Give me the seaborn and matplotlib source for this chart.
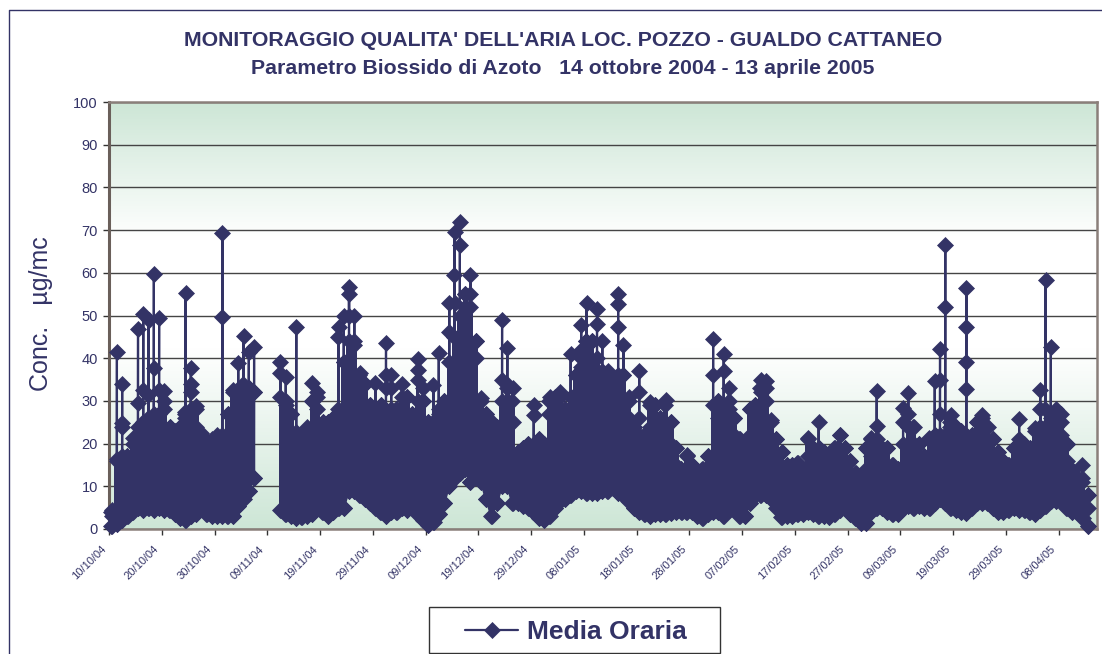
#!/usr/bin/python3
import numpy as np
import pandas as pd
from matplotlib import pyplot as plt
from matplotlib.colors import LinearSegmentedColormap
from matplotlib.lines import Line2D
from matplotlib.patches import Rectangle
from matplotlib.transforms import ScaledTranslation
import seaborn as sns

sns.set_style('white')
plt.rcParams['font.family'] = ['Liberation Sans', 'DejaVu Sans']

BLU = '#333366'
nan = float('nan')

inizio = '2004-10-10'

# valori letti a occhio, un valore per giorno a partire dal 10/10/04
massimi = [4.5, 41.5, 34, 17, 21.3, 46.8, 50.3, 49, 59.7, 49.3,
           32.3, 24, 23, 24, 55.2, 37.7, 28.7, 22.5, 20, 21,
           22, 69.3, 27, 32.5, 38.8, 45.2, 41.5, 42.7, nan, nan,
           nan, nan, 39.2, 35.7, 27, 47.4, 22, 24, 34.2, 32,
           25, 25, 26, 47.4, 49.9, 56.6, 50, 36.5, 34, 29,
           34.2, 29, 43.6, 36, 28, 34, 31, 27, 39.7, 33,
           25, 33.7, 41.3, 30, 52.9, 69.5, 71.8, 55, 59.5, 44,
           30.6, 27, 25, 24, 48.9, 42.3, 33, 18, 19, 20,
           29, 21, 20, 31, 31, 32, 28, 41.1, 36, 47.8,
           53, 44, 51.5, 44, 37, 35, 55, 43, 31, 24,
           37, 22, 29.8, 29, 26, 30.2, 25, 19, 14, 17.3,
           15, 13, 14, 17, 44.6, 30, 40.9, 33, 26, 21,
           20, 28, 29, 35, 34.7, 25.5, 21, 18, 15, 15,
           15.5, 14, 21.4, 19, 25.1, 18, 17, 19, 22, 19,
           16, 13, 12, 19, 21.2, 32.4, 19, 19, 15, 14,
           28.3, 31.9, 24, 20, 17, 21.2, 34.7, 42.1, 66.4, 26.7,
           24, 23, 56.4, 22, 25, 26.7, 24, 21, 18, 16,
           15, 19, 25.8, 20, 19, 23.7, 32.5, 58.4, 42.6, 28.2,
           26.9, 20, 13.8, 12, 15, 8]

secondi = [3, 16.5, 24.8, 14, 15, 29.5, 32.5, 31.4, 37.7, 32.5,
           28, 18, 16, 16, 27, 34, 24, 18, 15, 15,
           16, 49.7, 20, 25, 30, 34, 33, 32, nan, nan,
           nan, nan, 36.5, 30, 22, 22.8, 14, 17, 30, 28,
           20, 20, 22, 45, 39, 55, 43, 33, 28, 22,
           27, 22, 36, 33, 22, 28, 26, 22, 37.3, 30,
           20, 24, 28, 22, 46.2, 59.5, 66.5, 52, 55, 40,
           26, 23, 20, 20, 35, 34, 25, 14, 15, 16,
           26.8, 16, 15, 27, 26, 27, 24, 31, 30, 38,
           44, 38, 48, 36, 32, 30, 52.6, 36, 26, 20,
           32, 18, 24, 24, 22, 24, 20, 15, 11, 13,
           11, 10, 10, 14, 36, 26, 37, 28, 22, 17,
           16, 22, 25, 32, 30, 21, 17, 14, 12, 12,
           12, 11, 17, 15, 19, 14, 13, 15, 18, 15,
           12, 10, 8, 14, 17, 24.2, 15, 15, 11, 10,
           25, 27, 20, 16, 13, 16, 22, 27, 52, 24,
           20, 19, 47.2, 18, 22, 23, 20, 17, 14, 12,
           12, 15, 20, 16, 15, 18, 28, 28, 26, 24,
           22, 16, 10, 9, 11, 5]

# livello fino a cui le letture si sovrappongono in una massa piena
corpo = [4, 16, 17, 17, 20, 24, 25, 26, 27, 27,
         30, 24, 22, 24, 26, 28, 28, 22, 20, 20,
         21, 22, 27, 32, 32, 33, 33, 32, nan, nan,
         nan, nan, 31, 29, 27, 22, 20, 22, 30, 31,
         25, 25, 26, 28, 39, 44, 44, 36, 34, 29,
         27, 29, 27, 28, 28, 31, 31, 27, 30, 30,
         25, 25, 27, 30, 39, 45, 50, 55, 52, 44,
         30, 27, 25, 24, 30, 33, 30, 18, 19, 20,
         20, 21, 20, 30, 30, 31, 28, 31, 36, 40,
         44, 44, 40, 37, 35, 33, 36, 36, 30, 24,
         22, 22, 29, 29, 26, 29, 25, 19, 14, 17,
         15, 13, 14, 17, 29, 30, 28, 30, 26, 21,
         20, 28, 29, 33, 33, 25, 21, 18, 15, 15,
         15.5, 14, 21, 19, 19, 18, 17, 19, 22, 19,
         16, 13, 12, 19, 21, 21, 19, 19, 15, 14,
         20, 24, 24, 20, 17, 21, 22, 22, 22, 25,
         24, 23, 22, 22, 25, 26, 24, 21, 18, 16,
         15, 19, 21, 20, 19, 23, 24, 24, 24, 26,
         25, 20, 13.8, 12, 12, 8]

minimi = [0.8, 1.2, 2, 3, 4, 5, 4.5, 5, 4.5, 5,
          4.5, 4.5, 3.5, 2.5, 2.2, 3, 3.5, 5, 3.5, 3,
          3, 3, 3, 3, 5.5, 7, 9, 12, nan, nan,
          nan, nan, 4.5, 3.5, 3, 2.5, 2.8, 3, 3.5, 5,
          4, 3, 4, 5, 5, 9, 9, 8, 7, 6,
          5, 4, 3, 4, 4, 5, 4.5, 5.5, 3.5, 2,
          1, 1.7, 3.5, 6, 10, 12, 13, 14, 11, 13,
          11, 7, 3, 6, 10, 10, 6, 6, 5.5, 5,
          4, 2.5, 2, 3, 5, 6.5, 7, 8, 9, 9,
          8.5, 8.5, 8.5, 9, 9, 9.5, 8.5, 8, 6.5, 5,
          4, 3.5, 3, 3.5, 3.5, 3.5, 3.8, 4, 4, 4,
          4, 3, 2.5, 3.5, 4, 4, 3, 4.5, 5, 3,
          3, 6, 8, 8, 8, 7, 5, 2.8, 3, 3,
          3.5, 3.5, 4, 3.5, 3, 3, 2.8, 3.5, 4.5, 5,
          3.5, 2.5, 1.5, 1.5, 4, 5, 5, 4, 3.5, 3.5,
          5, 5.5, 5, 5.5, 5, 5, 6, 7, 6, 5,
          4.5, 4, 3.7, 5, 6, 6, 6, 5, 4, 4,
          4.5, 5, 4.5, 4.5, 4, 3.5, 4.5, 5.5, 6.5, 6.5,
          6.5, 5, 4, 4, 2.5, 0.8]

# altre letture ben visibili lungo i picchi
extra_giorno = [2, 14, 15, 45, 52, 58, 65, 89, 96, 100, 157, 162, 162, 176]
extra_valore = [24, 27.5, 32, 50, 33, 35, 53, 42, 47.3, 26, 35, 39, 32.7, 24]

etichette_y = [0, 10, 20, 30, 40, 50, 60, 70, 80, 90, 100]
etichette_x = ['10/10/04', '20/10/04', '30/10/04', '09/11/04', '19/11/04', '29/11/04',
               '09/12/04', '19/12/04', '29/12/04', '08/01/05', '18/01/05', '28/01/05',
               '07/02/05', '17/02/05', '27/02/05', '09/03/05', '19/03/05', '29/03/05',
               '08/04/05']

t0 = pd.Timestamp(inizio)
righe = []
for i in range(len(massimi)):
    if np.isnan(massimi[i]):
        continue
    tratto = 0 if i < 28 else 1
    righe.append((t0 + pd.Timedelta(days=i + 0.45), minimi[i], tratto))
    righe.append((t0 + pd.Timedelta(days=i + 0.47), corpo[i], tratto))
    righe.append((t0 + pd.Timedelta(days=i + 0.48), secondi[i], tratto))
    for g, v in zip(extra_giorno, extra_valore):
        if g == i:
            righe.append((t0 + pd.Timedelta(days=i + 0.49), v, tratto))
    righe.append((t0 + pd.Timedelta(days=i + 0.5), massimi[i], tratto))
    # la linea torna giu' sullo stesso stelo
    righe.append((t0 + pd.Timedelta(days=i + 0.51), minimi[i], tratto))
df = pd.DataFrame(righe, columns=['data', 'conc', 'tratto'])

giorni = [t0 + pd.Timedelta(days=i + 0.5) for i in range(len(massimi))]

fig = plt.figure(figsize=(11.02, 6.54), dpi=100)
ax = fig.add_axes([109 / 1102, 1 - 529 / 654, 988 / 1102, 427 / 654])

# sfondo sfumato verde-bianco-verde
cmap = LinearSegmentedColormap.from_list('sfondo', [(0, '#cde6d6'), (0.32, '#ffffff'), (0.58, '#ffffff'), (1, '#cde6d6')])
ax.imshow(np.linspace(0, 1, 256).reshape(-1, 1), cmap=cmap, aspect='auto', extent=(0, 1, 0, 1),
          transform=ax.transAxes, zorder=0)

ax.fill_between(giorni, minimi, corpo, step='mid', color=BLU, linewidth=0, zorder=3)

for n, sub in df.groupby('tratto'):
    sns.lineplot(x='data', y='conc', data=sub, ax=ax, sort=False, estimator=None, errorbar=None,
                 color=BLU, linewidth=1.6, marker='D', markersize=8.2, markeredgecolor=BLU,
                 markeredgewidth=0.5, clip_on=False, zorder=3,
                 label='Media Oraria' if n == 0 else None, legend=False)

date_x = pd.to_datetime(etichette_x, format='%d/%m/%y')
ax.set_xlim(t0, t0 + pd.Timedelta(days=187.25))
ax.set_ylim(0, 100)
ax.set_xticks(date_x)
ax.set_xticklabels(etichette_x, rotation=45, ha='right', rotation_mode='anchor', fontsize=8, color=BLU)
ax.set_yticks(etichette_y)
ax.set_yticklabels(etichette_y, fontsize=10.5, color=BLU)
ax.tick_params(axis='both', direction='out', length=4, width=1, color='#333333', bottom=True, left=True, pad=4)
spost = ScaledTranslation(-8 / 100, -4 / 100, fig.dpi_scale_trans)
for etichetta in ax.get_xticklabels():
    etichetta.set_transform(etichetta.get_transform() + spost)
ax.set_xlabel('')
ax.set_ylabel('')
ax.set_axisbelow(True)
ax.grid(axis='y', color='#444444', linewidth=1)
ax.grid(axis='x', visible=False)

for lato in ['top', 'right', 'bottom']:
    ax.spines[lato].set_color('#8a7f7a')
    ax.spines[lato].set_linewidth(1.8)
ax.spines['left'].set_color('#6a5f5a')
ax.spines['left'].set_linewidth(2.2)

fig.text(563 / 1102, 1 - 40 / 654, "MONITORAGGIO QUALITA' DELL'ARIA LOC. POZZO - GUALDO CATTANEO",
         ha='center', va='center', fontsize=15.3, fontweight='bold', color=BLU)
fig.text(563 / 1102, 1 - 69 / 654, 'Parametro Biossido di Azoto   14 ottobre 2004 - 13 aprile 2005',
         ha='center', va='center', fontsize=15.3, fontweight='bold', color=BLU)
fig.text(41 / 1102, 1 - 314 / 654, 'Conc.   \u00b5g/mc', rotation=90, ha='center', va='center',
         fontsize=18, color=BLU)

# cornice del grafico
fig.add_artist(Line2D([9 / 1102, 9 / 1102, 1], [0, 1 - 10 / 654, 1 - 10 / 654], color=BLU, linewidth=1))

# riquadro della legenda
fig.add_artist(Rectangle((429 / 1102, 1 - 653 / 654), 291 / 1102, 46 / 654, facecolor='white',
                         edgecolor='#333333', linewidth=1, transform=fig.transFigure))
maniglie, testi = ax.get_legend_handles_labels()
leg = fig.legend(maniglie[:1], testi[:1], loc='center', bbox_to_anchor=(576 / 1102, 1 - 632 / 654),
                 frameon=False, handlelength=2.0, handletextpad=0.35, borderaxespad=0,
                 prop={'size': 19, 'weight': 'bold'}, labelcolor=BLU)

plt.savefig('out.png', format='png', dpi=100)

print('finished')
